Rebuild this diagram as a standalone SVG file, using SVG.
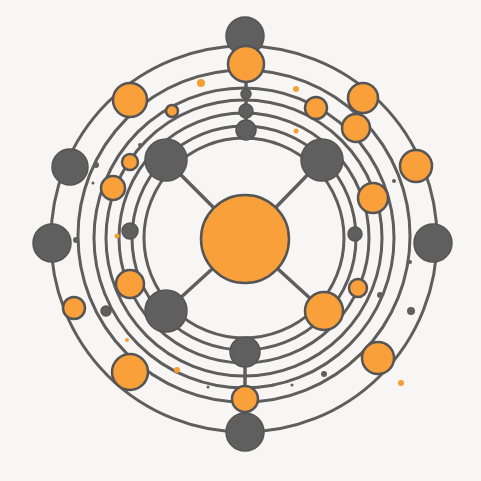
<svg xmlns="http://www.w3.org/2000/svg" width="481" height="481" viewBox="0 0 481 481">
<style>
.ring{fill:none;stroke:#5e5e5e;stroke-width:3}
.link{fill:none;stroke:#5e5e5e;stroke-width:3.5}
.o{fill:#f9a03a;stroke:#555;stroke-width:2.5}
.g{fill:#5f5f5f;stroke:#555;stroke-width:1.5}
.dot{fill:#5f5f5f}
.odot{fill:#f5a030}
</style>
<rect width="481" height="481" fill="#f7f6f4"/>
<g id="rings">
<circle class="ring" cx="244" cy="239" r="193"/>
<circle class="ring" cx="244" cy="236" r="166"/>
<circle class="ring" cx="244" cy="238" r="150"/>
<circle class="ring" cx="244" cy="238" r="138"/>
<circle class="ring" cx="244" cy="238" r="125"/>
<circle class="ring" cx="244" cy="238" r="112"/>
<circle class="ring" cx="244" cy="238" r="100"/>
</g>
<g id="connectors">
<line class="link" x1="245" y1="239" x2="166" y2="160"/>
<line class="link" x1="245" y1="239" x2="322" y2="160"/>
<line class="link" x1="245" y1="239" x2="166" y2="311"/>
<line class="link" x1="245" y1="239" x2="324" y2="311"/>
<line class="link" x1="245" y1="352" x2="245" y2="399"/>
<line class="link" x1="246" y1="82" x2="246" y2="130"/>
</g>
<g id="center"><circle class="o" cx="245" cy="239" r="44"/></g>
<g id="n-tl"><circle class="g" cx="166" cy="160" r="21"/></g>
<g id="n-tr"><circle class="g" cx="322" cy="160" r="21"/></g>
<g id="n-bl"><circle class="g" cx="166" cy="311" r="21"/></g>
<g id="n-br"><circle class="o" cx="324" cy="311" r="19"/></g>
<g id="n-top-g"><circle class="g" cx="245" cy="36" r="19"/></g>
<g id="n-top-o"><circle class="o" cx="246" cy="64" r="18"/></g>
<g id="n-top-s1"><circle class="g" cx="246" cy="94" r="5"/></g>
<g id="n-top-s2"><circle class="g" cx="246" cy="111" r="7"/></g>
<g id="n-top-s3"><circle class="g" cx="246" cy="130" r="10"/></g>
<g id="n-bot-g1"><circle class="g" cx="245" cy="352" r="15"/></g>
<g id="n-bot-o"><circle class="o" cx="245" cy="399" r="13"/></g>
<g id="n-bot-g2"><circle class="g" cx="245" cy="432" r="19"/></g>
<g id="n-left"><circle class="g" cx="52" cy="243" r="19"/></g>
<g id="n-right"><circle class="g" cx="433" cy="243" r="19"/></g>
<g id="n-ul"><circle class="g" cx="70" cy="167" r="18"/></g>
<g id="n-o1"><circle class="o" cx="130" cy="100" r="17"/></g>
<g id="n-o2"><circle class="o" cx="172" cy="111" r="6"/></g>
<g id="n-o3"><circle class="odot" cx="201" cy="83" r="4"/></g>
<g id="n-o4"><circle class="o" cx="130" cy="162" r="8"/></g>
<g id="n-o5"><circle class="o" cx="113" cy="188" r="12"/></g>
<g id="n-g6"><circle class="g" cx="130" cy="231" r="8"/></g>
<g id="n-o7"><circle class="o" cx="130" cy="284" r="14"/></g>
<g id="n-o8"><circle class="o" cx="74" cy="308" r="11"/></g>
<g id="n-g9"><circle class="g" cx="106" cy="311" r="5"/></g>
<g id="n-o10"><circle class="o" cx="130" cy="372" r="18"/></g>
<g id="n-o11"><circle class="o" cx="363" cy="98" r="15"/></g>
<g id="n-o12"><circle class="o" cx="316" cy="108" r="11"/></g>
<g id="n-o13"><circle class="o" cx="356" cy="128" r="14"/></g>
<g id="n-o14"><circle class="o" cx="416" cy="166" r="16"/></g>
<g id="n-o15"><circle class="o" cx="373" cy="198" r="15"/></g>
<g id="n-g16"><circle class="g" cx="355" cy="234" r="7"/></g>
<g id="n-o17"><circle class="o" cx="358" cy="288" r="9"/></g>
<g id="n-o18"><circle class="o" cx="378" cy="358" r="16"/></g>
<g id="dots">
<circle class="odot" cx="401" cy="383" r="3"/>
<circle class="odot" cx="296" cy="89" r="3"/>
<circle class="odot" cx="296" cy="131" r="2.5"/>
<circle class="odot" cx="117" cy="236" r="2.5"/>
<circle class="odot" cx="177" cy="370" r="3"/>
<circle class="odot" cx="127" cy="340" r="2"/>
<circle class="dot" cx="411" cy="311" r="4"/>
<circle class="dot" cx="380" cy="295" r="3"/>
<circle class="dot" cx="324" cy="374" r="3"/>
<circle class="dot" cx="208" cy="387" r="1.5"/>
<circle class="dot" cx="273" cy="385" r="1.5"/>
<circle class="dot" cx="292" cy="385" r="1.5"/>
<circle class="dot" cx="76" cy="240" r="3"/>
<circle class="dot" cx="96" cy="165" r="3"/>
<circle class="dot" cx="93" cy="183" r="1.5"/>
<circle class="dot" cx="410" cy="262" r="2"/>
<circle class="dot" cx="394" cy="181" r="2"/>
<circle class="dot" cx="140" cy="145" r="2"/>
</g>
</svg>
